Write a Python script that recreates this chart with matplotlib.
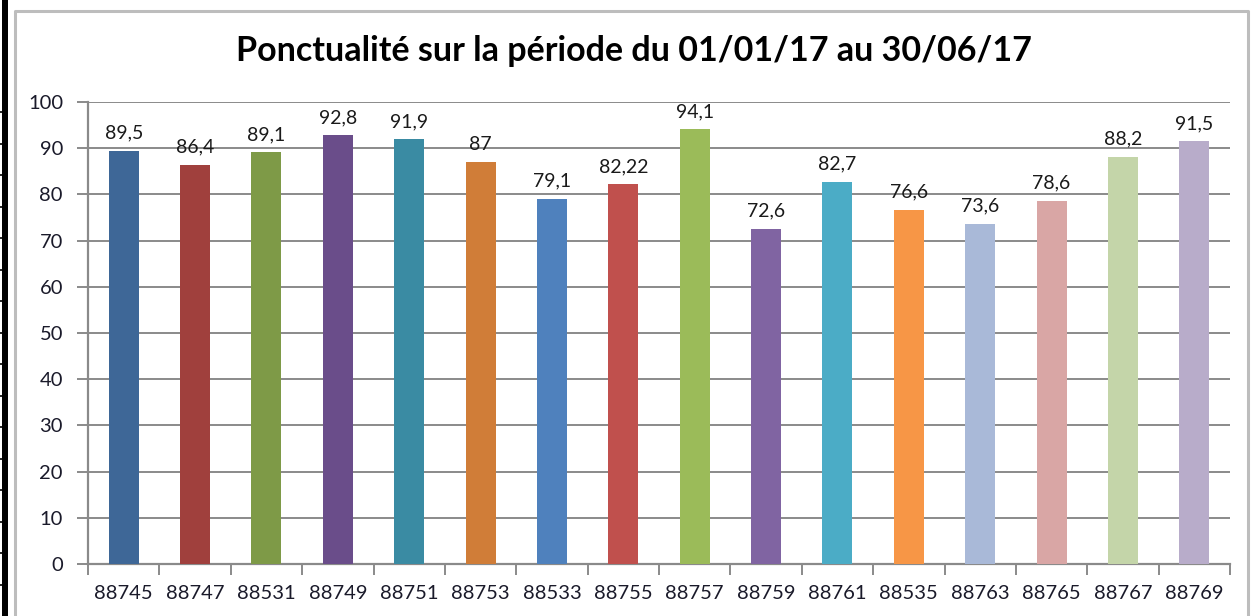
import numpy as np
import matplotlib.pyplot as plt
from matplotlib.lines import Line2D
from matplotlib.patches import Rectangle

stations = ['88745', '88747', '88531', '88749', '88751', '88753', '88533', '88755',
            '88757', '88759', '88761', '88535', '88763', '88765', '88767', '88769']
ponctualite = [89.5, 86.4, 89.1, 92.8, 91.9, 87, 79.1, 82.22,
               94.1, 72.6, 82.7, 76.6, 73.6, 78.6, 88.2, 91.5]
labels = ['89,5', '86,4', '89,1', '92,8', '91,9', '87', '79,1', '82,22',
          '94,1', '72,6', '82,7', '76,6', '73,6', '78,6', '88,2', '91,5']
colors = ['#3E6797', '#A0403D', '#7E9A47', '#6A4D8A', '#3A8BA3', '#D07D38',
          '#4F81BD', '#C0504D', '#9BBB59', '#8064A2', '#4BACC6', '#F79646',
          '#A9B9D8', '#D9A6A5', '#C4D5A9', '#B8ACCA']

plt.rcParams['font.family'] = ['Lato', 'DejaVu Sans']

fig = plt.figure(figsize=(12.54, 6.16), dpi=100)
W, H = 1254, 616

# page border on the left and the chart frame
fig.add_artist(Rectangle((2 / W, 0), 6 / W, 1, transform=fig.transFigure,
                         color='black', lw=0))
for y in np.arange(112, 616, 31.5):
    fig.add_artist(Line2D([0, 3 / W], [1 - y / H] * 2, transform=fig.transFigure,
                          color='black', lw=1.2))
fig.add_artist(Line2D([15.5 / W, 15.5 / W, 1247.5 / W, 1247.5 / W],
                      [0, 1 - 10.5 / H, 1 - 10.5 / H, 0], transform=fig.transFigure,
                      color='#BDBDBD', lw=2.2))

ax = fig.add_axes([88 / W, 1 - 564 / H, (1230 - 88) / W, (564 - 102) / H])
x = np.arange(len(stations))
ax.bar(x, ponctualite, width=0.42, color=colors, zorder=3)
for xi, v, lab in zip(x, ponctualite, labels):
    ax.text(xi, v + 2.0, lab, ha='center', va='bottom', fontsize=14,
            color='#1A1A1A', zorder=4)

ax.set_ylim(0, 100)
ax.set_xlim(-0.5, len(stations) - 0.5)
ax.set_yticks(range(0, 101, 10))
ax.yaxis.grid(True, color='#8A8A8A', lw=1.4, zorder=0)
ax.set_xticks(np.arange(-0.5, len(stations), 1.0))
ax.set_xticklabels([])
ax.set_xticks(x, minor=True)
ax.set_xticklabels(stations, minor=True)
ax.tick_params(axis='x', which='minor', length=0, pad=15, labelsize=14.5, labelcolor='#1A1A2A')
ax.tick_params(axis='x', which='major', length=8, width=1.4, color='#8A8A8A')
ax.tick_params(axis='y', length=8, width=1.4, color='#8A8A8A', labelsize=14.5,
               labelcolor='#1A1A2A', pad=10)
for s in ['top', 'right']:
    ax.spines[s].set_visible(False)
for s in ['left', 'bottom']:
    ax.spines[s].set_color('#8A8A8A')
    ax.spines[s].set_linewidth(1.6)

fig.text(634 / W, 1 - 51 / H, 'Ponctualité sur la période du 01/01/17 au 30/06/17',
         ha='center', va='center', fontsize=24.5, fontweight='bold', color='black')

fig.savefig('out.png', dpi=100, facecolor='white')
